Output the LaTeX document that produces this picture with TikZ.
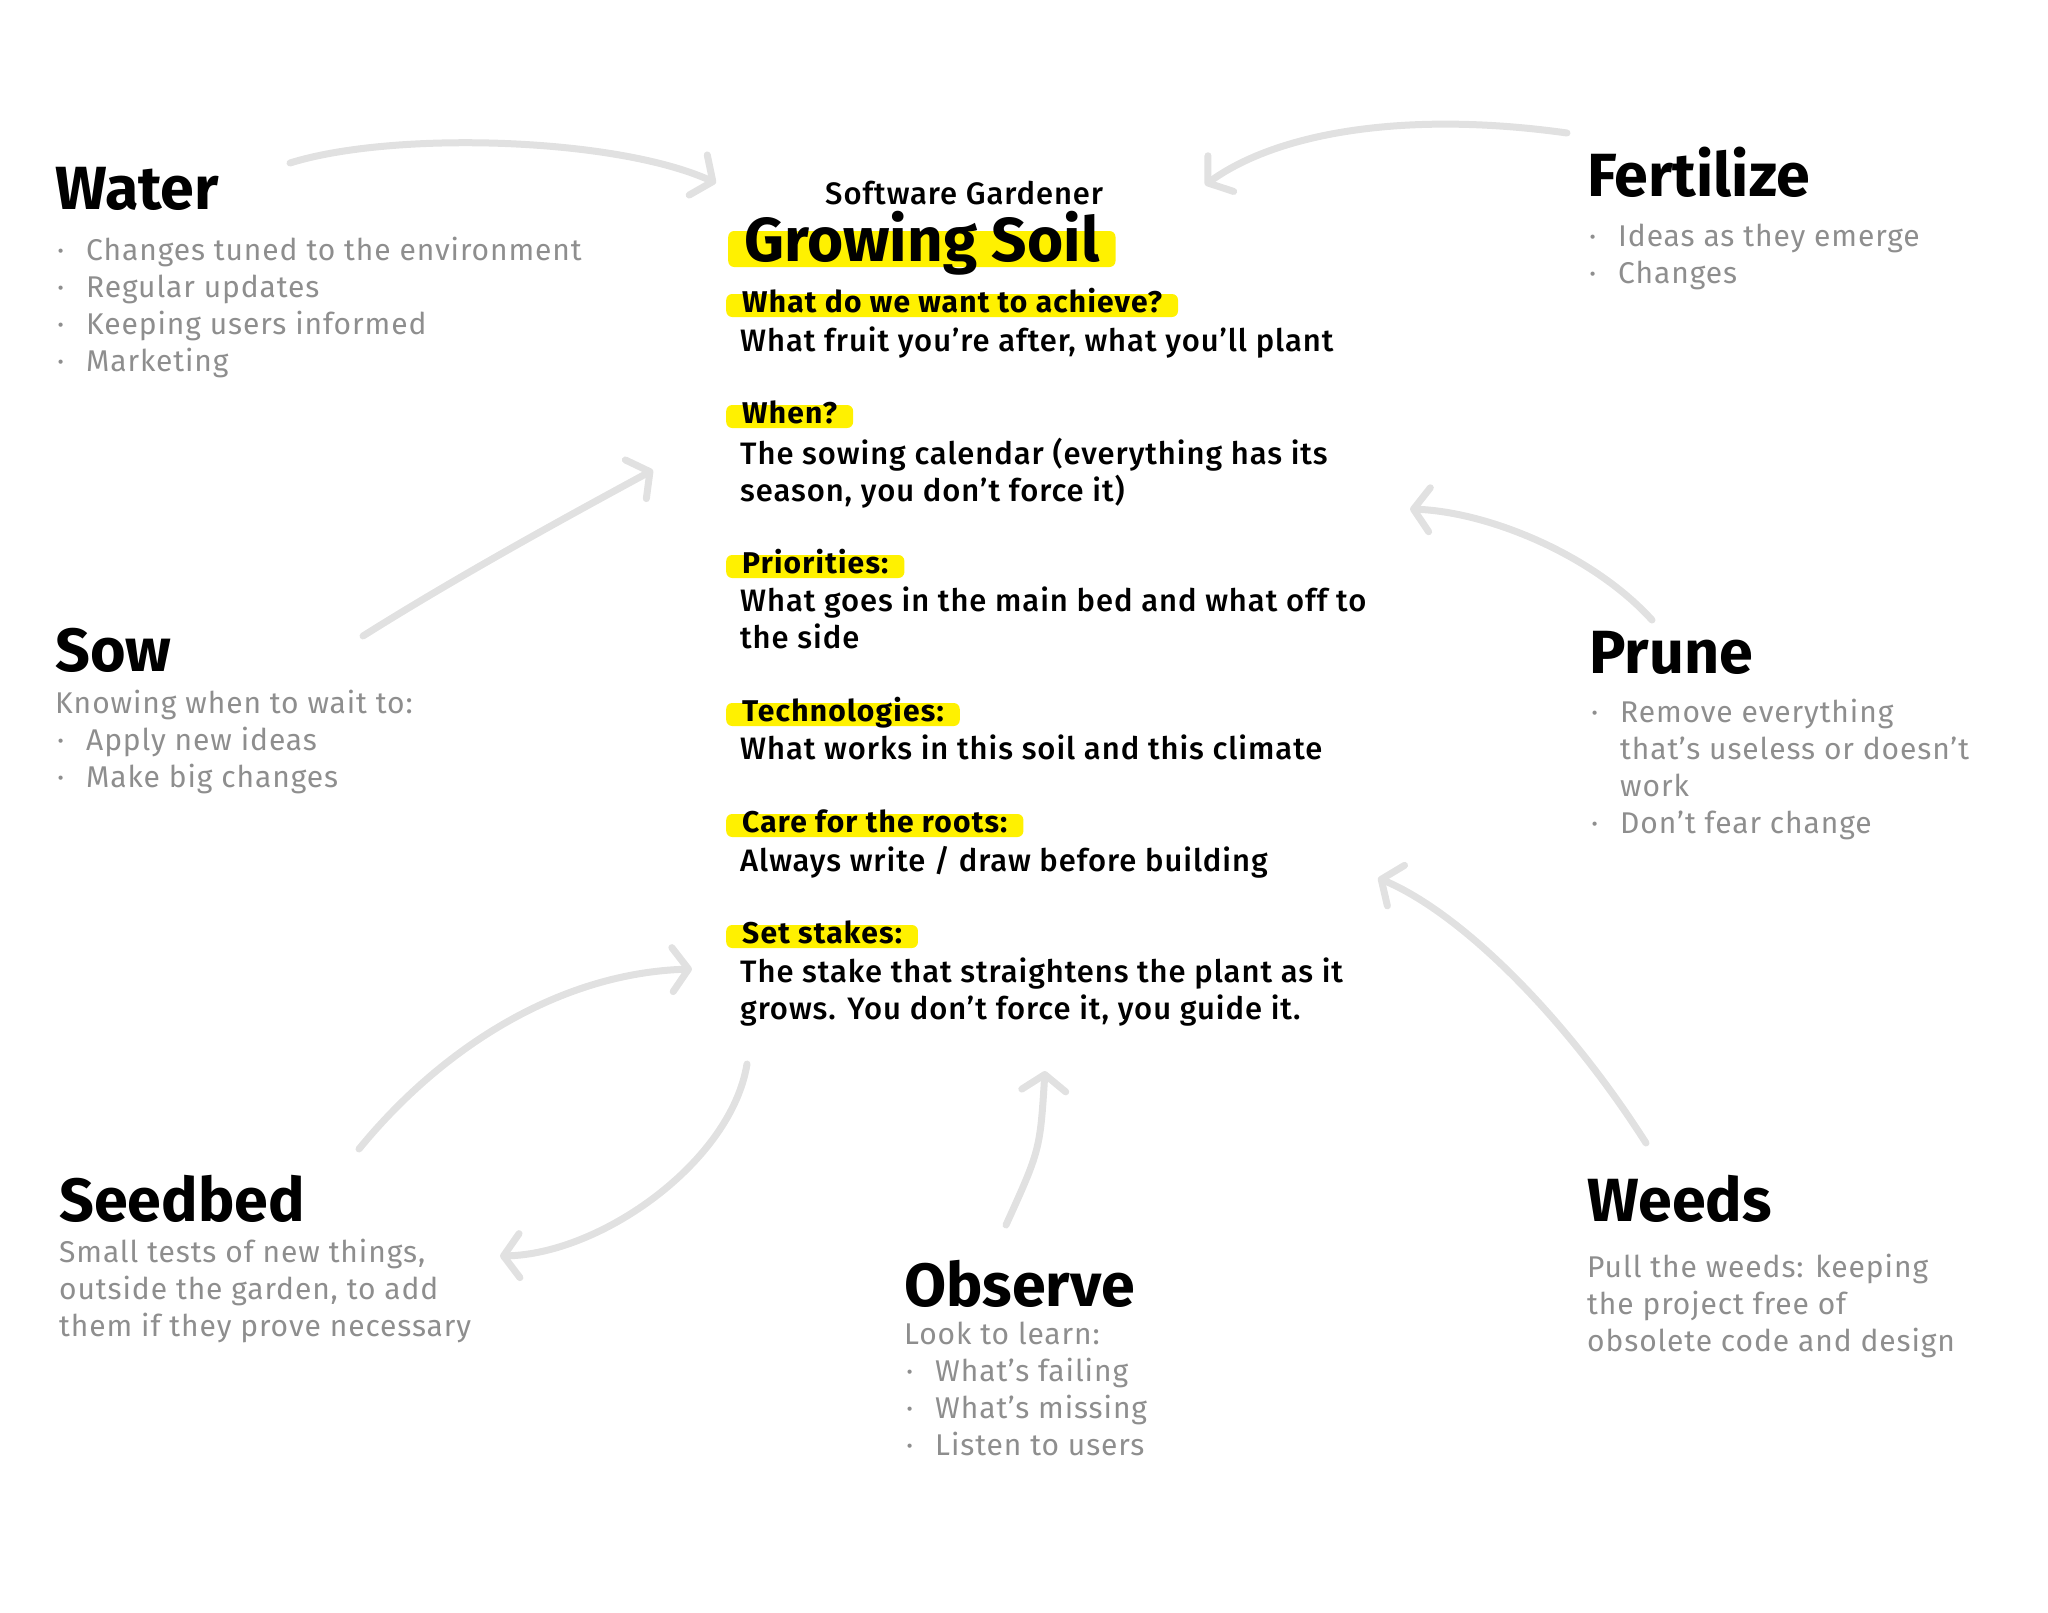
\documentclass[tikz,border=0pt]{standalone}
\usepackage{fontspec}
\setmainfont{Fira Sans}
\newfontfamily\medfont{Fira Sans Medium}[LetterSpace=3, Ligatures=TeX]
\usetikzlibrary{positioning}
\usetikzlibrary{arrows.meta}
\definecolor{hlYellow}{HTML}{FFF100}
\definecolor{noteGray}{HTML}{8E8E8E}
\definecolor{arrowGray}{HTML}{E1E1E1}
\newcommand{\bul}{\makebox[31pt][l]{\hspace{2pt}·}}
\newcommand{\ind}{\hspace*{31pt}}

\begin{document}
\begin{tikzpicture}[x=1pt, y=-1pt,
		ttl/.style={anchor=base west, inner sep=0pt, font=\fontsize{61}{70}\selectfont\bfseries},
		nt/.style={inner sep=0pt, align=left, text=noteGray, font=\fontsize{30}{37}\selectfont\addfontfeature{LetterSpace=3}},
		hd/.style={anchor=base west, fill=hlYellow, rounded corners=6pt, inner xsep=16pt, inner ysep=0pt, text height=18pt, text depth=5pt, font=\fontsize{30}{37}\selectfont\bfseries\addfontfeature{LetterSpace=4}},
		bd/.style={anchor=north west, inner sep=0pt, align=left, font=\fontsize{31}{37}\medfont},
		arr/.style={draw=arrowGray, line width=7pt, line cap=round, -{Straight Barb[length=16pt, width=44pt, round]}}
		]
		\useasboundingbox (0,0) rectangle (2048,1612);

		% centre column
		\node[anchor=base west, inner sep=0pt, font=\fontsize{31}{36}\medfont] (title) at (825,204) {Software Gardener};
		\node[hd, font=\fontsize{62}{70}\selectfont\bfseries, text height=30pt, text depth=6pt, inner xsep=16pt] (soil) at (728,261) {Growing Soil};

		\node[hd] (q1) at (726,312) {What do we want to achieve?};
		\node[bd] (b1) at (740,327) {What fruit you're after, what you'll plant};

		\node[hd] (q2) at (726,423) {When?};
		\node[bd] (b2) at (740,438) {The sowing calendar (everything has its\\season, you don't force it)};

		\node[hd] (q3) at (726,573) {Priorities:};
		\node[bd] (b3) at (740,587) {What goes in the main bed and what off to\\the side};

		\node[hd] (q4) at (726,721) {Technologies:};
		\node[bd] (b4) at (740,735) {What works in this soil and this climate};

		\node[hd] (q5) at (726,832) {Care for the roots:};
		\node[bd] (b5) at (740,846) {Always write / draw before building};

		\node[hd] (q6) at (726,943) {Set stakes:};
		\node[bd] (b6) at (740,958) {The stake that straightens the plant as it\\grows. You don't force it, you guide it.};

		% the seven tasks
		\node[ttl] (water) at (55,209) {Water};
		\node[nt, below=28pt of water.base west, anchor=north west] (waterTxt) {\bul Changes tuned to the environment\\\bul Regular updates\\\bul Keeping users informed\\\bul Marketing};

		\node[ttl] (fert) at (1587,196) {Fertilize};
		\node[nt, below=28pt of fert.base west, anchor=north west] (fertTxt) {\bul Ideas as they emerge\\\bul Changes};

		\node[ttl] (sow) at (55,671) {Sow};
		\node[nt, below=19pt of sow.base west, anchor=north west] (sowTxt) {Knowing when to wait to:\\\bul Apply new ideas\\\bul Make big changes};

		\node[ttl] (prune) at (1589,673) {Prune};
		\node[nt, below=26pt of prune.base west, anchor=north west] (pruneTxt) {\bul Remove everything\\\ind that's useless or doesn't\\\ind work\\\bul Don't fear change};

		\node[ttl] (seedbed) at (59,1221) {Seedbed};
		\node[nt, below=18pt of seedbed.base west, anchor=north west] (seedbedTxt) {Small tests of new things,\\outside the garden, to add\\them if they prove necessary};

		\node[ttl] (weeds) at (1587,1221) {Weeds};
		\node[nt, below=33pt of weeds.base west, anchor=north west] (weedsTxt) {Pull the weeds: keeping\\the project free of\\obsolete code and design};

		\node[ttl] (observe) at (904,1306) {Observe};
		\node[nt, below=16pt of observe.base west, anchor=north west] (observeTxt) {Look to learn:\\\bul What's failing\\\bul What's missing\\\bul Listen to users};

		% arrow ends
		\coordinate (waterOut) at (290,163);
		\coordinate (waterIn) at (716,183);
		\coordinate (fertOut) at (1567,133);
		\coordinate (fertIn) at (1205,185);
		\coordinate (sowOut) at (363,636);
		\coordinate (sowIn) at (653,470);
		\coordinate (pruneOut) at (1652,620);
		\coordinate (pruneIn) at (1410,509);
		\coordinate (seedOut) at (359,1149);
		\coordinate (seedIn) at (692,969);
		\coordinate (soilOut) at (747,1064);
		\coordinate (seedBack) at (500,1256);
		\coordinate (weedsOut) at (1646,1143);
		\coordinate (weedsIn) at (1378,878);
		\coordinate (obsOut) at (1006,1225);
		\coordinate (obsIn) at (1045,1071);

		\draw[arr] (waterOut) .. controls (392,131) and (614,137) .. (waterIn);
		\draw[arr] (fertOut) .. controls (1410,111) and (1280,131) .. (fertIn);
		\draw[arr] (sowOut) .. controls (460,575) and (570,515) .. (sowIn);
		\draw[arr] (pruneOut) .. controls (1593,555) and (1489,512) .. (pruneIn);
		\draw[arr] (seedOut) .. controls (444,1045) and (562,973) .. (seedIn);
		\draw[arr] (soilOut) .. controls (731,1162) and (601,1254) .. (seedBack);
		\draw[arr] (weedsOut) .. controls (1567,1019) and (1463,914) .. (weedsIn);
		\draw[arr] (obsOut) .. controls (1040,1150) .. (obsIn);
	\end{tikzpicture}
\end{document}
